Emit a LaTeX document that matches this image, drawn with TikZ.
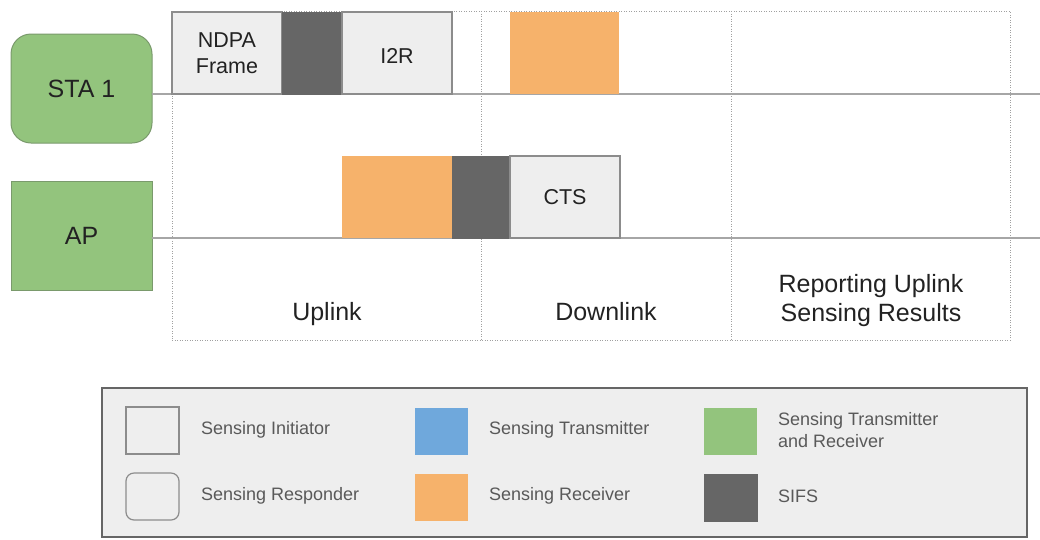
\documentclass[tikz,border=0pt]{standalone}
\usepackage{fontspec}
\setmainfont{Liberation Sans}
\definecolor{stagreen}{HTML}{93C47D}
\definecolor{stagreenb}{HTML}{7A9A6C}
\definecolor{rxorange}{HTML}{F6B26B}
\definecolor{txblue}{HTML}{6FA8DC}
\definecolor{sifsgray}{HTML}{666666}
\definecolor{lightfill}{HTML}{EEEEEE}
\definecolor{bordergray}{HTML}{8C8C8C}
\definecolor{linegray}{HTML}{A6A6A6}
\definecolor{dotgray}{HTML}{A0A0A0}
\definecolor{legborder}{HTML}{666666}
\definecolor{txt}{HTML}{222222}
\definecolor{legtxt}{HTML}{595959}
\begin{document}
\begin{tikzpicture}[x=1pt,y=-1pt,
  every node/.style={inner sep=0pt, outer sep=0pt, text=txt},
  bigfont/.style={font=\fontsize{25}{29}\selectfont},
  midfont/.style={font=\fontsize{21.5}{26}\selectfont},
  devbox/.style={fill=stagreen, draw=stagreenb, line width=1pt, minimum width=141pt, minimum height=109pt, anchor=north west, bigfont},
  blk/.style={fill=lightfill, draw=bordergray, line width=1.2pt, minimum height=82pt, anchor=north west, align=center, midfont},
  sifsblk/.style={fill=sifsgray, draw=sifsgray, line width=0.6pt, minimum height=82pt, anchor=north west},
  rxblk/.style={fill=rxorange, minimum height=82pt, anchor=north west},
  tline/.style={draw=linegray, line width=1.8pt},
  dotline/.style={draw=dotgray, line width=0.9pt, dash pattern=on 0.9pt off 1.6pt},
  legsq/.style={minimum width=53pt, minimum height=47pt, anchor=north west},
  legtext/.style={anchor=west, align=left, text=legtxt, font=\fontsize{18}{22}\selectfont}
]
\useasboundingbox (0,0) rectangle (1040,539);

% dotted phase regions
\node[dotline, draw, minimum width=838pt, minimum height=329pt, anchor=north west] (region) at (172,11) {};
\coordinate (d1top) at (481,11);
\coordinate (d1bot) at (481,340);
\coordinate (d2top) at (731,11);
\coordinate (d2bot) at (731,340);
\draw[dotline] (d1top) -- (d1bot);
\draw[dotline] (d2top) -- (d2bot);

% devices
\node[devbox, rounded corners=20pt] (sta) at (11,34) {STA 1};
\node[devbox] (ap) at (11,181) {AP};

% timelines
\coordinate (staend) at (1040,94);
\coordinate (apend) at (1040,238);
\draw[tline] (sta.east |- staend) -- (staend);
\draw[tline] (ap.east |- apend) -- (apend);

% STA 1 frames
\node[blk, minimum width=110pt] (ndpa) at (172,12) {NDPA\\Frame};
\node[sifsblk, minimum width=60pt] (sifs1) at (282,12) {};
\node[blk, minimum width=110pt, text height=21pt] (i2r) at (342,12) {I2R};
\node[rxblk, minimum width=109pt] (rx1) at (510,12) {};

% AP frames
\node[rxblk, minimum width=110pt] (rx2) at (342,156) {};
\node[sifsblk, minimum width=58pt] (sifs2) at (452,156) {};
\node[blk, minimum width=110pt] (cts) at (510,156) {CTS};

% phase labels
\node[bigfont, anchor=base] (uplink) at (327,320) {Uplink};
\node[bigfont, anchor=base] (downlink) at (606,320) {Downlink};
\node[bigfont, align=center] (report) at (871,300.5) {Reporting Uplink\\Sensing Results};

% legend
\node[fill=lightfill, draw=legborder, line width=2.5pt, minimum width=925pt, minimum height=149pt, anchor=north west] (legend) at (102,388) {};
\node[legsq, fill=lightfill, draw=bordergray, line width=1.2pt] (leginit) at (126,407) {};
\node[legtext] (leginitt) at (201,430) {Sensing Initiator};
\node[legsq, fill=lightfill, draw=bordergray, line width=1.2pt, rounded corners=8pt] (legresp) at (126,473) {};
\node[legtext] (legrespt) at (201,496) {Sensing Responder};
\node[legsq, fill=txblue] (legtx) at (415,408) {};
\node[legtext] (legtxt) at (489,430) {Sensing Transmitter};
\node[legsq, fill=rxorange] (legrx) at (415,474) {};
\node[legtext] (legrxt) at (489,496) {Sensing Receiver};
\node[legsq, fill=stagreen] (legtr) at (704,408) {};
\node[legtext] (legtrt) at (778,430) {Sensing Transmitter\\and Receiver};
\node[legsq, fill=sifsgray, draw=sifsgray, line width=0.6pt] (legsifs) at (704,474) {};
\node[legtext] (legsifst) at (778,496) {SIFS};
\end{tikzpicture}
\end{document}
